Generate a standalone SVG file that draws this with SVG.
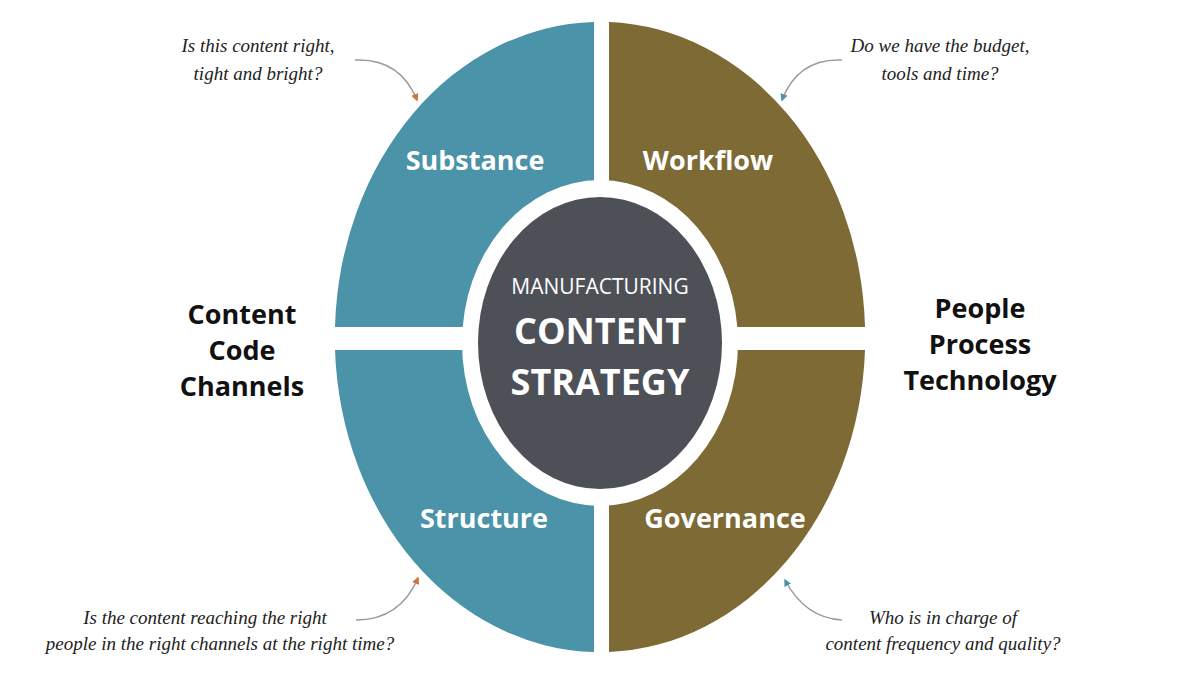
<svg xmlns="http://www.w3.org/2000/svg" width="1200" height="675" viewBox="0 0 1200 675">
<style>
.q{font-family:"Open Sans","Liberation Sans",sans-serif;font-weight:bold;font-size:27px;fill:#fff;text-anchor:middle}
.side{font-family:"Open Sans","Liberation Sans",sans-serif;font-weight:bold;font-size:27px;fill:#111;text-anchor:middle}
.ann{font-family:"Liberation Serif",serif;font-style:italic;font-size:19px;fill:#222;text-anchor:middle}
.c{fill:none;stroke:#999;stroke-width:1.5}
</style>
<defs>
<marker id="ao" viewBox="0 0 10 10" refX="8" refY="5" markerWidth="5" markerHeight="5" orient="auto"><path d="M0,0L10,5L0,10Z" fill="#d0733a"/></marker>
<marker id="at" viewBox="0 0 10 10" refX="8" refY="5" markerWidth="5" markerHeight="5" orient="auto"><path d="M0,0L10,5L0,10Z" fill="#4a93a8"/></marker>
</defs>
<rect width="1200" height="675" fill="#fff"/>
<g id="substance"><path d="M594,22 A265,315 0 0 0 335,327 L594,327 Z" fill="#4a93a8"/><text class="q" x="475" y="170">Substance</text></g>
<g id="workflow"><path d="M609,22 A265,315 0 0 1 865,327 L609,327 Z" fill="#7d6a35"/><text class="q" x="708" y="170">Workflow</text></g>
<g id="structure"><path d="M594,652 A265,315 0 0 1 335,350 L594,350 Z" fill="#4a93a8"/><text class="q" x="484" y="528">Structure</text></g>
<g id="governance"><path d="M609,652 A265,315 0 0 0 865,350 L609,350 Z" fill="#7d6a35"/><text class="q" x="725" y="528">Governance</text></g>
<g id="center">
<ellipse cx="600" cy="343" rx="138" ry="163" fill="#fff"/>
<ellipse cx="600" cy="343" rx="122" ry="146" fill="#4d5157"/>
<text x="600" y="294" text-anchor="middle" font-family="'Open Sans','Liberation Sans',sans-serif" font-size="21" fill="#fff">MANUFACTURING</text>
<text x="600" y="344" text-anchor="middle" font-family="'Open Sans','Liberation Sans',sans-serif" font-weight="bold" font-size="36" fill="#fff">CONTENT</text>
<text x="600" y="395" text-anchor="middle" font-family="'Open Sans','Liberation Sans',sans-serif" font-weight="bold" font-size="36" fill="#fff">STRATEGY</text>
</g>
<g id="left-label"><text class="side" x="242" y="324">Content</text><text class="side" x="242" y="360">Code</text><text class="side" x="242" y="396">Channels</text></g>
<g id="right-label"><text class="side" x="980" y="318">People</text><text class="side" x="980" y="354">Process</text><text class="side" x="980" y="390">Technology</text></g>
<g id="annotations">
<text class="ann" x="258" y="52">Is this content right,</text><text class="ann" x="258" y="80">tight and bright?</text>
<text class="ann" x="940" y="52">Do we have the budget,</text><text class="ann" x="940" y="80">tools and time?</text>
<text class="ann" x="205" y="624">Is the content reaching the right</text><text class="ann" x="220" y="650">people in the right channels at the right time?</text>
<text class="ann" x="943" y="624">Who is in charge of</text><text class="ann" x="943" y="650">content frequency and quality?</text>
</g>
<g id="connectors">
<path class="c" d="M355,60 Q400,58 417,100" marker-end="url(#ao)"/>
<path class="c" d="M842,60 Q798,58 782,100" marker-end="url(#at)"/>
<path class="c" d="M356,620 Q400,620 418,578" marker-end="url(#ao)"/>
<path class="c" d="M842,620 Q805,618 785,580" marker-end="url(#at)"/>
</g>
</svg>
